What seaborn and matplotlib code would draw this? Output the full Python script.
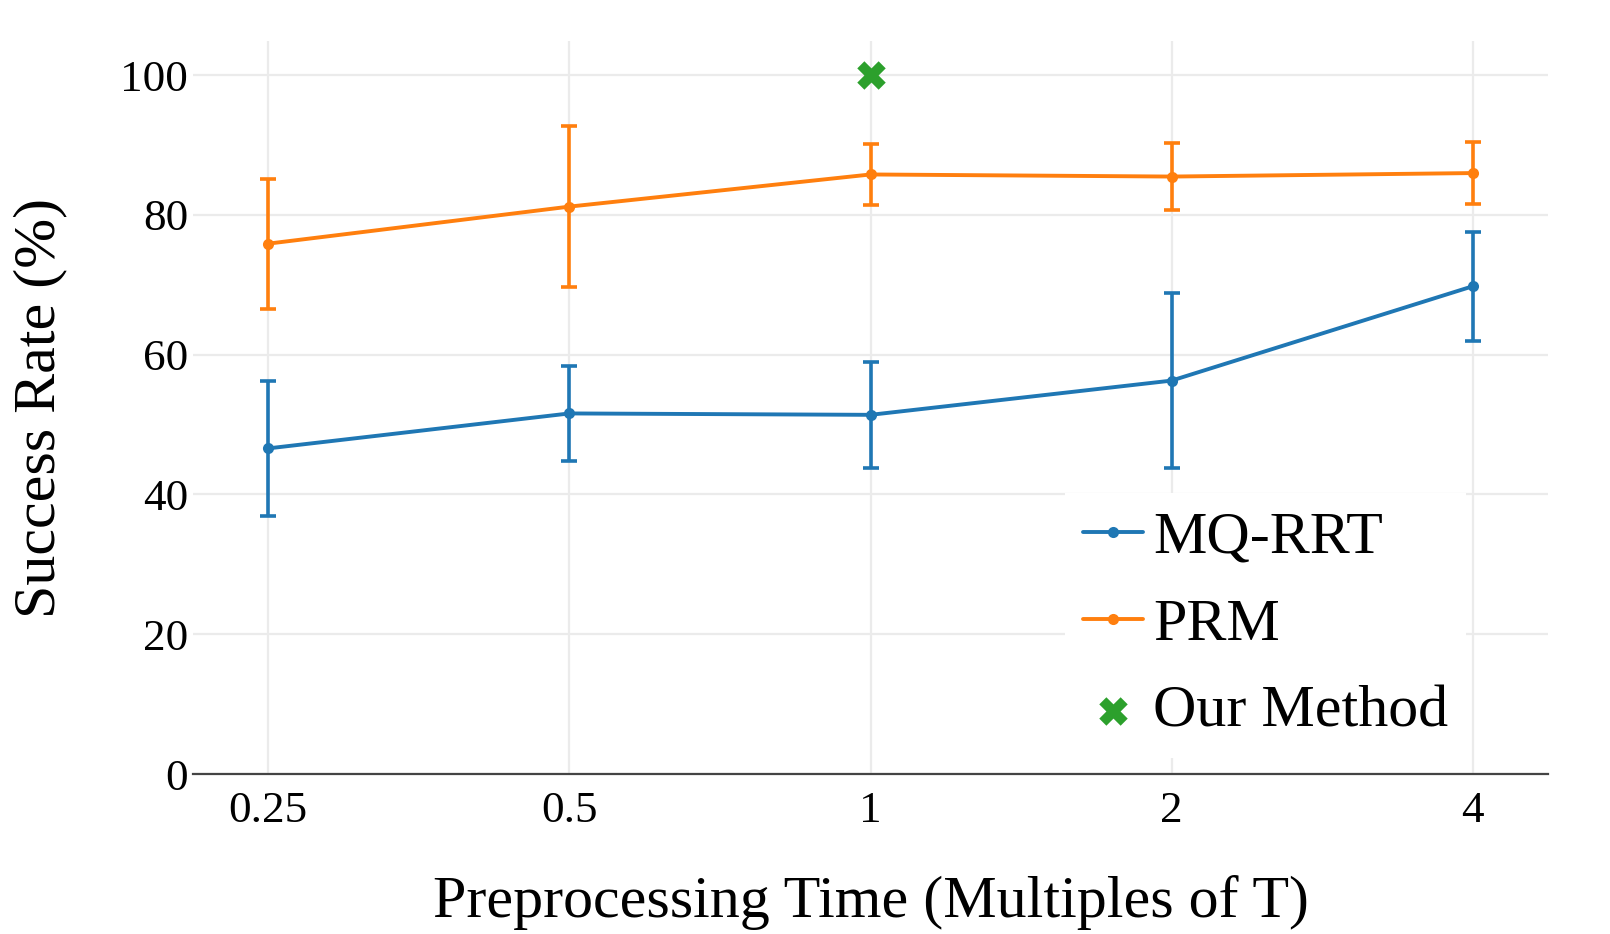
import matplotlib
matplotlib.use("Agg")
import matplotlib.pyplot as plt
import seaborn as sns
import pandas as pd
import numpy as np

x_labels = ["0.25", "0.5", "1", "2", "4"]
mq_rrt = [46.6, 51.6, 51.4, 56.3, 69.8]
mq_rrt_err = [9.7, 6.8, 7.6, 12.5, 7.8]
prm = [75.9, 81.2, 85.8, 85.5, 86.0]
prm_err = [9.3, 11.5, 4.4, 4.8, 4.4]
ours_x = "1"
ours = [100.0]

sns.set_theme(style="white")
plt.rcParams['font.family'] = ['Liberation Serif', 'DejaVu Serif']
plt.rcParams['text.color'] = 'black'
plt.rcParams['axes.labelcolor'] = 'black'
plt.rcParams['xtick.color'] = 'black'
plt.rcParams['ytick.color'] = 'black'

blue = "#1f77b4"
orange = "#ff7f0e"
green = "#2ca02c"

pos = list(range(len(x_labels)))
df = pd.DataFrame({
    "pos": pos * 2,
    "value": mq_rrt + prm,
    "method": ["MQ-RRT"] * len(pos) + ["PRM"] * len(pos),
})

W, H = 1610, 934
fig = plt.figure(figsize=(W/100, H/100), dpi=100)
ax = fig.add_axes([193/W, (H-774)/H, (1548-193)/W, (774-41)/H])

ax.grid(True, color="#ebebeb", linewidth=1.6)
ax.set_axisbelow(True)

for vals, errs, col in [(mq_rrt, mq_rrt_err, blue), (prm, prm_err, orange)]:
    ax.errorbar(pos, vals, yerr=errs, fmt="none", ecolor=col, elinewidth=2.6,
                capsize=5.5, capthick=2.6, zorder=2)

sns.lineplot(data=df, x="pos", y="value", hue="method",
             palette={"MQ-RRT": blue, "PRM": orange},
             marker="o", markersize=8, markeredgewidth=0, linewidth=2.8,
             ax=ax, zorder=3)

ax.scatter([x_labels.index(ours_x)], ours, marker="X", s=420, color=green,
           linewidths=0, zorder=4, label="Our Method")

ax.set_xlim(-0.25, 4.25)
ax.set_ylim(0, 104.9)
ax.set_xticks(pos)
ax.set_xticklabels(x_labels)
ax.set_yticks([0, 20, 40, 60, 80, 100])
ax.tick_params(axis="both", length=0, labelsize=32.5)
ax.tick_params(axis="x", pad=12)
ax.tick_params(axis="y", pad=3.5)

for s in ["top", "right", "left"]:
    ax.spines[s].set_visible(False)
ax.spines["bottom"].set_color("#444444")
ax.spines["bottom"].set_linewidth(1.6)

ax.set_xlabel("Preprocessing Time (Multiples of T)", fontsize=43.2, labelpad=32)
ax.set_ylabel("Success Rate (%)", fontsize=43.2, labelpad=38)

handles, labels = ax.get_legend_handles_labels()
leg = ax.legend(handles, labels, loc="upper left",
                bbox_to_anchor=(1065/W, (H-493)/H),
                bbox_transform=fig.transFigure, borderaxespad=0,
                fontsize=43.2, frameon=True, facecolor="white", edgecolor="white",
                framealpha=1.0, fancybox=False, handlelength=1.0,
                handletextpad=0.17, labelspacing=0.53, borderpad=0.3)
leg.get_frame().set_linewidth(0)

fig.savefig("out.png", dpi=100)
